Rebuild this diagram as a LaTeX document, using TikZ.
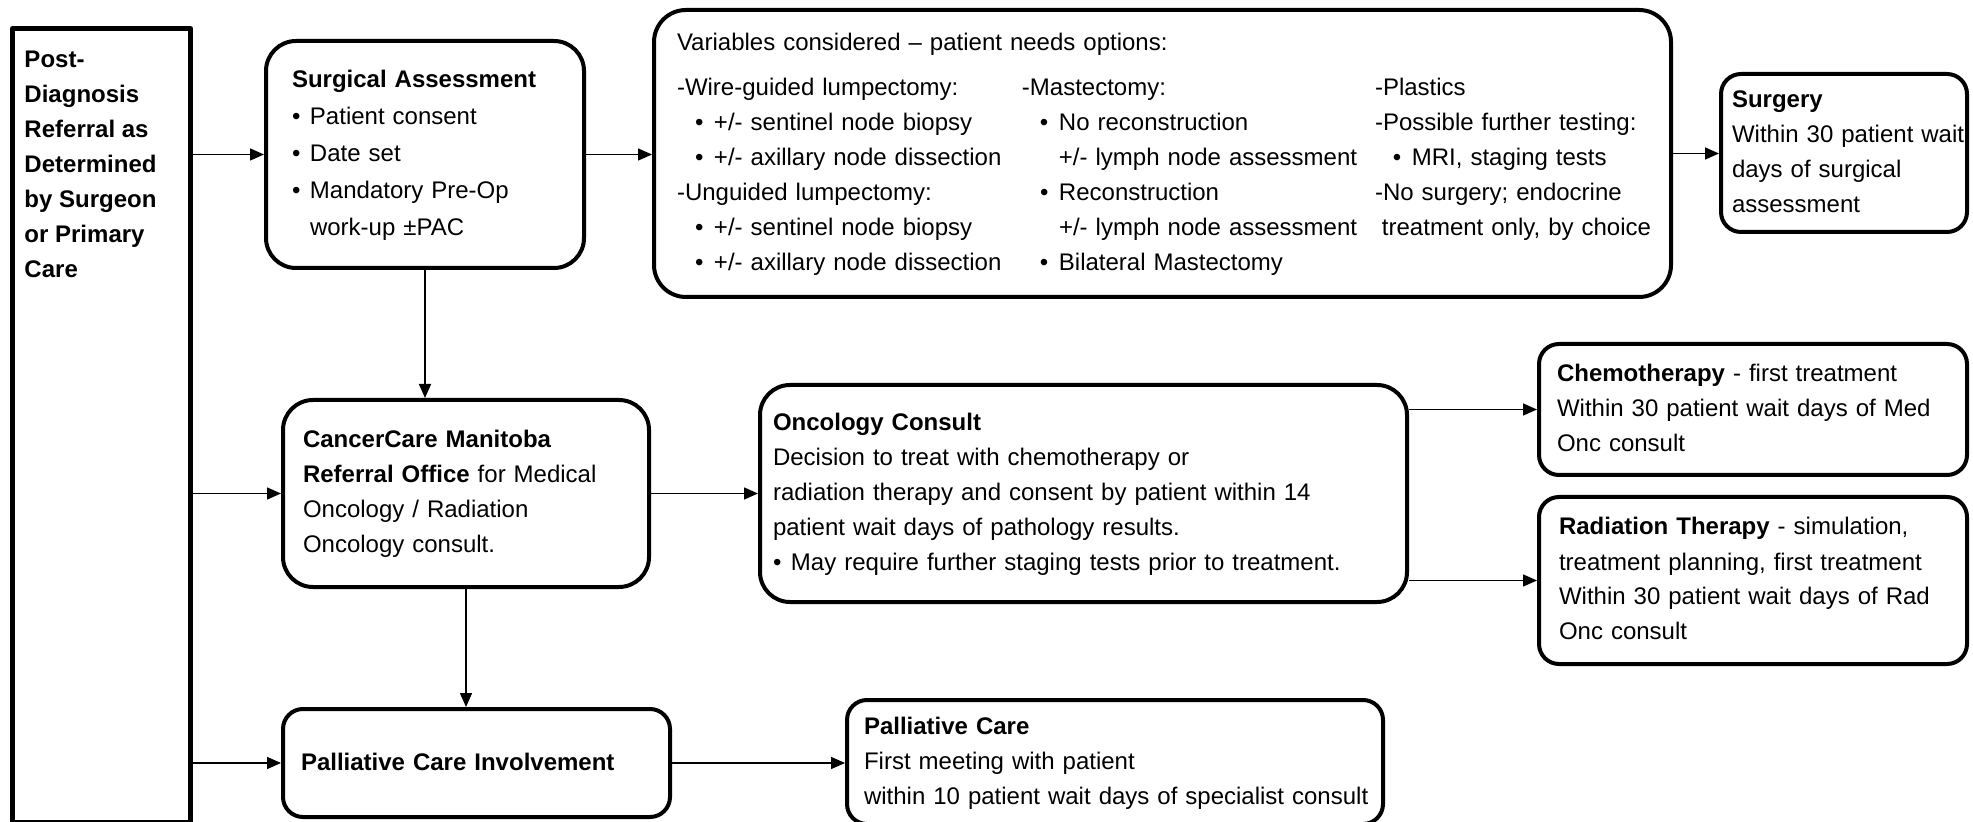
\documentclass[tikz,border=0pt]{standalone}
\usepackage{fontspec}
\setmainfont{Liberation Sans}
\usepackage{tikz}
\usetikzlibrary{arrows.meta}
\tikzset{stage/.style={draw=black, line width=2pt, rounded corners=10pt, anchor=north west, inner ysep=0pt, align=left, font=\fontsize{12}{17.5}\selectfont}}
\tikzset{link/.style={draw=black, line width=0.75pt, -{Triangle[length=7pt,width=6pt]}}}
\newcommand{\boxlines}[1]{\begin{tabular}{@{}l@{}}#1\end{tabular}}
\newcommand{\bul}{\makebox[9pt][l]{\textbullet}}
\newcommand{\subbul}{\hspace*{9pt}\makebox[9.5pt][l]{\textbullet}}

\begin{document}
\begin{tikzpicture}[x=1pt, y=-1pt, line join=round]
	\useasboundingbox (0,0) rectangle (986.5,411);
	
	\node[stage, rounded corners=0pt, line width=2.5pt, minimum width=89pt, minimum height=397pt, inner xsep=6pt] (ref) at (5,13) {\parbox[t][375pt][t]{77pt}{\bfseries Post-\\Diagnosis\\Referral as\\Determined\\by Surgeon\\or Primary\\Care}};
	
	\node[stage, rounded corners=15pt, minimum width=159pt, minimum height=113.5pt, inner xsep=13pt, text width=133pt, font=\fontsize{12}{18.5}\selectfont] (sa) at (132,19.5) {\boxlines{\textbf{Surgical Assessment}\\\bul Patient consent\\\bul Date set\\\bul Mandatory Pre-Op\\\hspace*{9pt}work-up ±PAC}};
	
	\node[stage, rounded corners=16pt, minimum width=508.5pt, minimum height=143.5pt, inner xsep=11.5pt, text width=485.5pt] (opts) at (326,4) {\begin{tabular}{@{}p{172.5pt}@{}p{176.5pt}@{}l@{}}
		\multicolumn{3}{@{}l@{}}{Variables considered -- patient needs options:}\\[5pt]
		-Wire-guided lumpectomy: & -Mastectomy: & -Plastics\\
		\subbul +/- sentinel node biopsy & \subbul No reconstruction & -Possible further testing:\\
		\subbul +/- axillary node dissection & \hspace*{18.5pt}+/- lymph node assessment & \subbul MRI, staging tests\\
		-Unguided lumpectomy: & \subbul Reconstruction & -No surgery; endocrine\\
		\subbul +/- sentinel node biopsy & \hspace*{18.5pt}+/- lymph node assessment & \hspace*{3.5pt}treatment only, by choice\\
		\subbul +/- axillary node dissection & \subbul Bilateral Mastectomy &
	\end{tabular}};
	
	\node[stage, minimum width=123pt, minimum height=79pt, inner xsep=5.5pt, text width=112pt] (surg) at (859.5,36) {\boxlines{\textbf{Surgery}\\Within 30 patient wait\\days of surgical\\assessment}};
	
	\node[stage, rounded corners=15pt, minimum width=183pt, minimum height=93.5pt, inner xsep=10pt, text width=163pt] (cc) at (140.5,199) {\boxlines{\textbf{CancerCare Manitoba}\\\textbf{Referral Office} for Medical\\Oncology / Radiation\\Oncology consult.}};
	
	\node[stage, rounded corners=15pt, minimum width=323.5pt, minimum height=108.5pt, inner xsep=6.5pt, text width=310.5pt] (onc) at (379,191.5) {\boxlines{\textbf{Oncology Consult}\\Decision to treat with chemotherapy or\\radiation therapy and consent by patient within 14\\patient wait days of pathology results.\\\bul May require further staging tests prior to treatment.}};
	
	\node[stage, minimum width=214pt, minimum height=65.5pt, inner xsep=9pt, text width=196pt] (chemo) at (768.5,171) {\boxlines{\textbf{Chemotherapy} - first treatment\\Within 30 patient wait days of Med\\Onc consult}};
	
	\node[stage, minimum width=214pt, minimum height=83.5pt, inner xsep=10pt, text width=194pt] (rad) at (768.5,247.5) {\boxlines{\textbf{Radiation Therapy} - simulation,\\treatment planning, first treatment\\Within 30 patient wait days of Rad\\Onc consult}};
	
	\node[stage, minimum width=193.5pt, minimum height=54pt, inner xsep=9pt, text width=175.5pt] (pci) at (140.5,353.5) {\boxlines{\textbf{Palliative Care Involvement}}};
	
	\node[stage, minimum width=268pt, minimum height=62pt, inner xsep=8.5pt, text width=251pt] (pc) at (422.5,349) {\boxlines{\textbf{Palliative Care}\\First meeting with patient\\within 10 patient wait days of specialist consult}};
	
	\draw[link] (ref.east |- sa.west) -- (sa.west);
	\draw[link] (sa.east) -- (sa.east -| opts.west);
	\draw[link] (opts.east) -- (opts.east -| surg.west);
	\draw[link] (sa.south) -- (sa.south |- cc.north);
	
	\draw[link] (ref.east |- cc.west) -- (cc.west);
	\draw[link] (cc.east) -- (cc.east -| onc.west);
	\draw[link] (onc.east |- chemo.west) -- (chemo.west);
	\draw[link] (onc.east |- rad.west) -- (rad.west);
	\draw[link] (cc.south) -- (cc.south |- pci.north);
	
	\draw[link] (ref.east |- pci.west) -- (pci.west);
	\draw[link] (pci.east) -- (pci.east -| pc.west);
\end{tikzpicture}
\end{document}
